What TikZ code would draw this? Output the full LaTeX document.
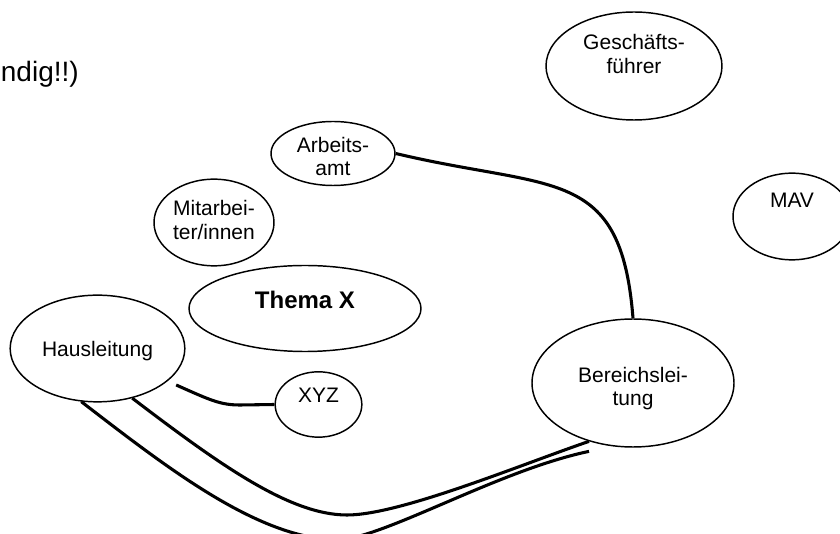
\documentclass[tikz,border=0pt]{standalone}
\usepackage{fontspec}
\setmainfont{Liberation Sans}
\usetikzlibrary{shapes.geometric}

\begin{document}
\begin{tikzpicture}[x=0.75pt, y=-0.75pt,
  bubble/.style={ellipse, draw, line width=1.1pt, inner sep=0pt, align=center,
    font=\fontsize{15.75}{17.6}\selectfont},
  link/.style={line width=2.3pt}]
  % Frame
  \useasboundingbox (0,0) rectangle (840,534);
  \clip (0,0) rectangle (840,534);
  \fill[white] (0,0) rectangle (840,534);

  % Cut-off remark
  \node[anchor=base east, inner sep=0pt, font=\fontsize{21}{25}\selectfont] (remark) at (79,82) {ndig!!)};

  % Bubbles
  \node[bubble, minimum width=132pt, minimum height=81pt, text depth=18pt] (gf) at (634,66) {Geschäfts-\\führer};
  \node[bubble, minimum width=88.5pt, minimum height=65pt, text depth=24.8pt] (mav) at (792,216.5) {MAV};
  \node[bubble, minimum width=93pt, minimum height=48pt, text height=33pt, text depth=0pt] (ar) at (333,153.5) {Arbeits-\\amt};
  \node[bubble, minimum width=90pt, minimum height=65pt, text depth=3.7pt] (ma) at (214,222.5) {Mitarbei-\\ter/innen};
  \node[bubble, minimum width=174pt, minimum height=64.5pt, text depth=13pt,
    font=\fontsize{18}{21}\selectfont\bfseries] (th) at (305,308.5) {Thema X};
  \node[bubble, minimum width=131pt, minimum height=80pt, text depth=0pt] (hl) at (97.5,348.5) {Hausleitung};
  \node[bubble, minimum width=65pt, minimum height=49pt, text depth=14.3pt] (xyz) at (318.5,404.5) {XYZ};
  \node[bubble, minimum width=151.5pt, minimum height=96pt, text height=34.5pt, text depth=0pt] (br) at (633,383) {Bereichslei-\\tung};

  % Links
  \draw[link] (ar.east) .. controls (553,191) and (621,165) .. (br.north);
  \draw[link, shorten <=7pt] (hl.-25) .. controls (210,400) and (220,405) .. (240,405) -- (xyz.west);
  \draw[link] (hl.-55) .. controls (220,465) and (290,515) .. (347,515)
    .. controls (400,515) and (520,465) .. (br.-127);
  \draw[link] (hl.-107) .. controls (170,470) and (260,540) .. (340,540)
    .. controls (390,535) and (500,470) .. ([yshift=-7.5pt]br.-127);
\end{tikzpicture}
\end{document}
